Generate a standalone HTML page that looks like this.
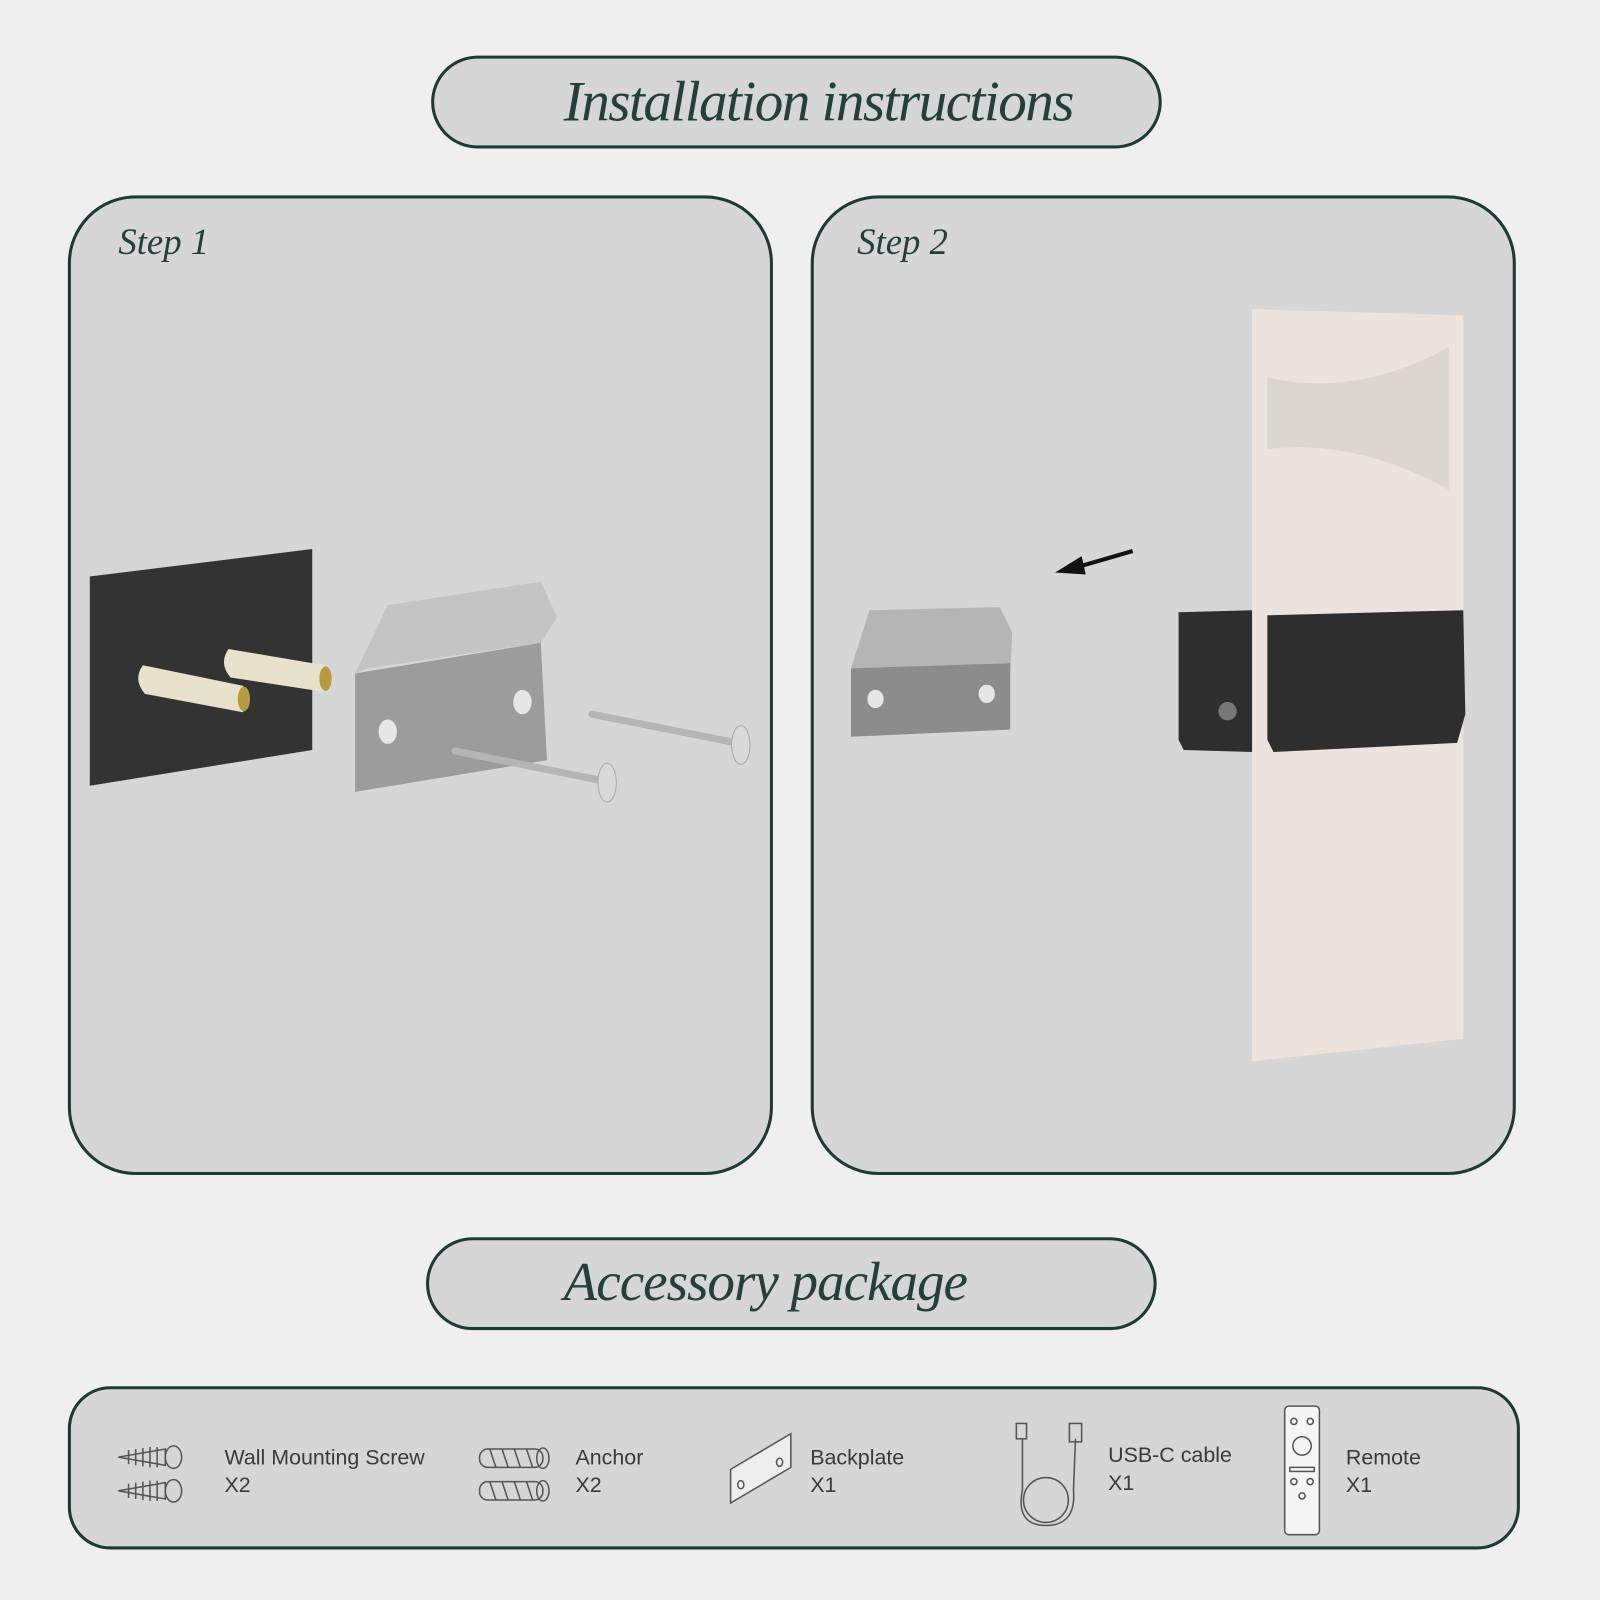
<!DOCTYPE html>
<html><head><meta charset="utf-8"><style>
html,body{margin:0;padding:0;background:#efefef;}
svg{display:block;}
.t{font-family:"Liberation Serif",serif;font-style:italic;fill:#23403b;}
.s{font-family:"Liberation Sans",sans-serif;fill:#3a3a3a;font-size:21px;}
</style></head><body>
<svg width="1600" height="1600" viewBox="0 0 1568 1568" xmlns="http://www.w3.org/2000/svg">
<rect width="1568" height="1568" fill="#efefef"/>
<rect x="424" y="56" width="713" height="88" rx="44" fill="#d6d6d6" stroke="#1e3a36" stroke-width="3"/>
<text x="802" y="118" text-anchor="middle" class="t" font-size="56" letter-spacing="-1.5">Installation instructions</text>
<rect x="68" y="193" width="688" height="957" rx="65" fill="#d6d6d6" stroke="#1e3a36" stroke-width="3"/>
<rect x="796" y="193" width="688" height="957" rx="65" fill="#d6d6d6" stroke="#1e3a36" stroke-width="3"/>
<text x="116" y="249" class="t" font-size="36">Step 1</text>
<text x="840" y="249" class="t" font-size="36">Step 2</text>
<polygon points="88,565 306,538 306,735 88,770" fill="#333333"/>
<g fill="#e8e2cc">
<path d="M140,652 L238,672 Q248,684 238,698 L142,680 Q130,666 140,652Z"/>
<path d="M224,636 L318,652 Q328,664 318,678 L226,664 Q214,650 224,636Z"/>
</g>
<ellipse cx="239" cy="685" rx="6" ry="12" fill="#b89a40"/>
<ellipse cx="319" cy="665" rx="6" ry="12" fill="#b89a40"/>
<polygon points="348,660 380,593 530,570 546,605 530,630 360,655" fill="#c4c4c4"/>
<polygon points="348,660 530,630 536,745 348,776" fill="#9c9c9c"/>
<ellipse cx="380" cy="717" rx="9" ry="12" fill="#e6e6e6"/>
<ellipse cx="512" cy="688" rx="9" ry="12" fill="#e6e6e6"/>
<g stroke="#b5b5b5" stroke-width="7" stroke-linecap="round">
<line x1="446" y1="736" x2="590" y2="765"/>
<line x1="580" y1="700" x2="722" y2="728"/>
</g>
<ellipse cx="595" cy="767" rx="9" ry="19" fill="#d9d9d9" stroke="#aaa"/>
<ellipse cx="726" cy="730" rx="9" ry="19" fill="#d9d9d9" stroke="#aaa"/>
<polygon points="1227,303 1434,309 1434,1018 1227,1040" fill="#ece3dc"/>
<path d="M1242,370 Q1330,390 1420,340 L1420,480 Q1330,430 1242,440Z" fill="#dcd6d0"/>
<polygon points="1155,600 1227,598 1227,737 1160,735 1155,725" fill="#2e2e2e"/>
<polygon points="1242,603 1434,598 1436,700 1428,728 1248,737 1242,725" fill="#2e2e2e"/>
<circle cx="1203" cy="697" r="9" fill="#777"/>
<polygon points="834,655 852,598 980,595 992,620 990,660" fill="#b5b5b5"/>
<polygon points="834,655 990,650 990,715 834,722" fill="#8c8c8c"/>
<ellipse cx="858" cy="685" rx="8" ry="9" fill="#e6e6e6"/>
<ellipse cx="967" cy="680" rx="8" ry="9" fill="#e6e6e6"/>
<line x1="1110" y1="540" x2="1055" y2="556" stroke="#111" stroke-width="4"/>
<polygon points="1034,561 1060,545 1064,563" fill="#111"/>
<rect x="419" y="1214" width="713" height="88" rx="44" fill="#d6d6d6" stroke="#1e3a36" stroke-width="3"/>
<text x="750" y="1274" text-anchor="middle" class="t" font-size="54" letter-spacing="-1">Accessory package</text>
<rect x="68" y="1360" width="1420" height="157" rx="40" fill="#d6d6d6" stroke="#1e3a36" stroke-width="3"/>
<g fill="none" stroke="#555" stroke-width="1.5">
<path d="M116,1428 L162,1420 L162,1436Z"/><ellipse cx="170" cy="1428" rx="8" ry="11"/>
<path d="M126,1421 v14 M133,1420 v16 M140,1419 v18 M147,1418 v20 M154,1418 v20"/>
<path d="M116,1461 L162,1453 L162,1469Z"/><ellipse cx="170" cy="1461" rx="8" ry="11"/>
<path d="M126,1454 v14 M133,1453 v16 M140,1452 v18 M147,1451 v20 M154,1451 v20"/>
<rect x="470" y="1420" width="62" height="18" rx="8"/><ellipse cx="532" cy="1429" rx="6" ry="10"/>
<path d="M480,1420 l6,18 M492,1420 l6,18 M504,1420 l6,18 M516,1420 l6,18"/>
<rect x="470" y="1452" width="62" height="18" rx="8"/><ellipse cx="532" cy="1461" rx="6" ry="10"/>
<path d="M480,1452 l6,18 M492,1452 l6,18 M504,1452 l6,18 M516,1452 l6,18"/>
<polygon points="716,1440 775,1405 775,1438 716,1473" fill="#eee"/>
<ellipse cx="726" cy="1455" rx="3" ry="4"/><ellipse cx="764" cy="1433" rx="3" ry="4"/>
<path d="M1002,1410 L1002,1460 Q995,1495 1025,1495 Q1055,1495 1052,1460 L1054,1410"/>
<ellipse cx="1025" cy="1470" rx="22" ry="22"/>
<rect x="996" y="1395" width="10" height="15"/><rect x="1048" y="1395" width="12" height="18"/>
<rect x="1259" y="1378" width="34" height="126" rx="4" fill="#f5f5f5"/>
<circle cx="1276" cy="1417" r="9"/>
<circle cx="1268" cy="1393" r="3"/><circle cx="1284" cy="1393" r="3"/>
<rect x="1264" y="1438" width="24" height="4"/>
<circle cx="1268" cy="1452" r="3"/><circle cx="1284" cy="1452" r="3"/><circle cx="1276" cy="1466" r="3"/>
</g>
<text x="220" y="1435" class="s">Wall Mounting Screw</text><text x="220" y="1462" class="s">X2</text>
<text x="564" y="1435" class="s">Anchor</text><text x="564" y="1462" class="s">X2</text>
<text x="794" y="1435" class="s">Backplate</text><text x="794" y="1462" class="s">X1</text>
<text x="1086" y="1433" class="s">USB-C cable</text><text x="1086" y="1460" class="s">X1</text>
<text x="1319" y="1435" class="s">Remote</text><text x="1319" y="1462" class="s">X1</text>
</svg>
</body></html>
